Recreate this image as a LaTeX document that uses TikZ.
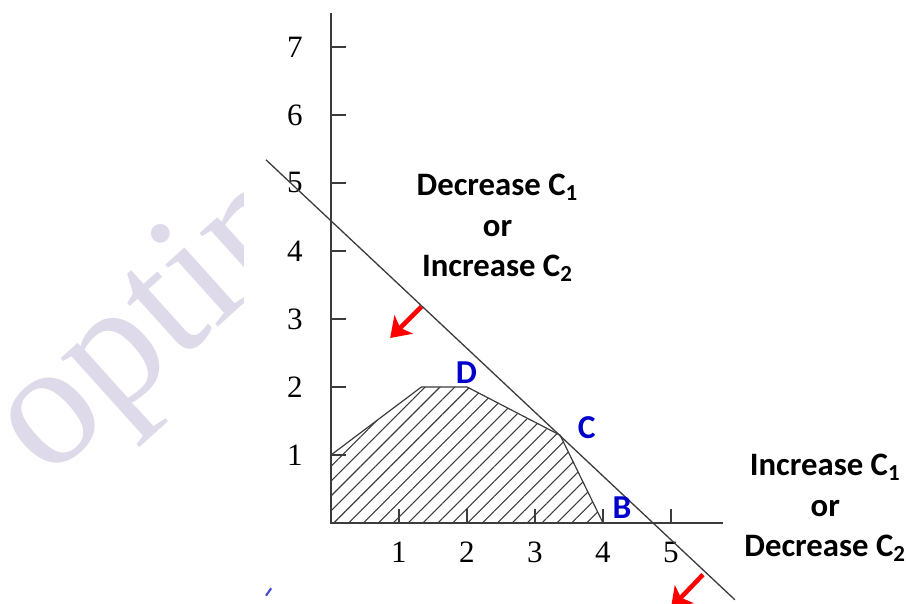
\documentclass[tikz,border=0pt]{standalone}
\usepackage{fontspec}
\setmainfont{Liberation Serif}
\newfontfamily\calibri{Carlito}
\usepackage{tikz}
\usetikzlibrary{arrows.meta,patterns.meta}
\definecolor{axisgray}{RGB}{60,60,60}
\definecolor{vblue}{RGB}{0,0,204}
\definecolor{wmark}{RGB}{222,218,234}

\begin{document}
\begin{tikzpicture}[every node/.style={inner sep=0pt}, axis/.style={axisgray,line width=0.85pt}, num/.style={font=\fontsize{13}{14}\selectfont}, rule/.style={font=\calibri\bfseries\fontsize{13.7}{17}\selectfont,align=center}, vertex/.style={font=\calibri\bfseries\fontsize{14}{15}\selectfont,text=vblue}, move/.style={-{Stealth[length=2.8mm,width=3.8mm,inset=0.7mm]},red,line width=1.9pt}, feasible/.style={draw=axisgray,line width=0.5pt,pattern={Lines[angle=45,distance=4.4pt,line width=0.45pt]},pattern color=axisgray}]
  \useasboundingbox (-4.868,-1.191) rectangle (8.456,7.691);
  \begin{scope}
    \clip (-4.868,-1.191) rectangle (-1.28,7.691);
    \node[rotate=42,anchor=base west,text=wmark,font=\fontsize{74}{74}\selectfont] (wm) at (-4.18,0.62) {optim};
  \end{scope}
  \coordinate (O) at (0,0);
  \coordinate (ytop) at (0,7.5);
  \coordinate (xend) at (5.76,0);
  \coordinate (F) at (0,1);
  \coordinate (E) at (1.33,2);
  \coordinate (D) at (2,2);
  \coordinate (C) at (3.37,1.29);
  \coordinate (B) at (4,0);
  \coordinate (lstart) at (-0.956,5.34);
  \coordinate (lend) at (5.94,-1.13);
  \draw[feasible] (O) -- (F) -- (E) -- (D) -- (C) -- (B) -- cycle;
  \draw[axis] (ytop) -- (O) -- (xend);
  \foreach \k in {1,...,7} {
    \draw[axis] (0,\k) -- (0.22,\k);
    \node[num] (y\k) at (-0.53,\k) {\k};
  }
  \foreach \k in {1,...,5} {
    \draw[axis,line width=0.6pt] (\k,0) -- (\k,0.2);
    \node[num] (x\k) at (\k,-0.43) {\k};
  }
  \draw[axisgray,line width=0.55pt] (lstart) -- (lend);
  \node[vertex] (labD) at (1.99,2.21) {D};
  \node[vertex] (labC) at (3.76,1.40) {C};
  \node[vertex] (labB) at (4.28,0.22) {B};
  \node[rule] (upper) at (2.45,4.34) {Decrease C\textsubscript{1}\\or\\Increase C\textsubscript{2}};
  \node[rule] (lower) at (7.27,0.22) {Increase C\textsubscript{1}\\or\\Decrease C\textsubscript{2}};
  \coordinate (a1) at (1.33,3.18);
  \coordinate (t1) at (0.87,2.72);
  \coordinate (a2) at (5.47,-0.76);
  \coordinate (t2) at (5.0,-1.25);
  \draw[move] (a1) -- (t1);
  \draw[move] (a2) -- (t2);
  \draw[vblue!70,line width=0.9pt] (-0.956,-1.07) -- (-0.88,-0.96);
\end{tikzpicture}
\end{document}
